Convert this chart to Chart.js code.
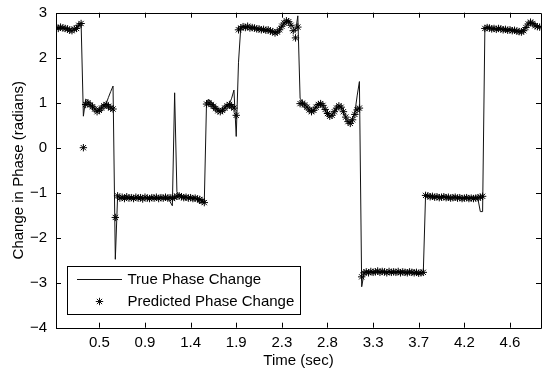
<!DOCTYPE html>
<html><head><meta charset="utf-8">
<script src="https://cdn.jsdelivr.net/npm/chart.js@4/dist/chart.umd.min.js"></script>
<style>html,body{margin:0;padding:0;background:#fff}#wrap{width:546px;height:370px;position:relative}</style>
</head><body><div id="wrap"><canvas id="c" width="546" height="370"></canvas></div>
<script>
// x axis: analysis frames; tick labels are times in seconds
const xTickFrames = [20, 40, 60, 80, 100, 120, 140, 160, 180, 200];
const xTickLabels = ['0.5', '0.9', '1.4', '1.9', '2.3', '2.8', '3.3', '3.7', '4.2', '4.6'];
const yTickValues = [-4, -3, -2, -1, 0, 1, 2, 3];

const trueChange = [
  2.68, 2.66, 2.69, 2.67, 2.64, 2.66, 2.62, 2.60, 2.63, 2.66, 2.71, 2.78,
  0.70,
  1.08, 1.04, 0.97, 0.92, 0.86, 0.82, 0.85, 0.91, 0.96, 0.98, 1.12, 1.25, 1.37,
  -2.48,
  -1.08, -1.10, -1.12, -1.09, -1.11, -1.13, -1.10, -1.12, -1.11, -1.09,
  -1.12, -1.13, -1.10, -1.11, -1.12, -1.10, -1.11, -1.13, -1.12, -1.10,
  -1.11, -1.12, -1.14, -1.20, -1.29, 1.22, -0.98, -1.06, -1.08, -1.10,
  -1.09, -1.11, -1.10, -1.12, -1.11, -1.14, -1.25, -1.19, -1.21,
  1.05, 1.06, 1.02, 0.95, 0.90, 0.84, 0.81, 0.84, 0.90, 0.95, 0.97, 1.10, 1.28, 0.25,
  1.90,
  2.68, 2.70, 2.68, 2.69, 2.67, 2.66, 2.68, 2.65, 2.63, 2.64, 2.62, 2.63, 2.61,
  2.60, 2.58, 2.56, 2.55, 2.60, 2.68, 2.75, 2.80, 2.82, 2.75, 2.68, 2.58, 2.93,
  1.10, 1.02, 0.96, 0.90, 0.85, 0.81, 0.84, 0.91, 0.97, 0.99, 0.93, 0.84, 0.75, 0.70,
  0.73, 0.81, 0.89, 0.94, 0.89, 0.79, 0.67, 0.57, 0.55, 0.64, 0.78, 1.15, 1.47,
  -3.09, -2.80, -2.77, -2.79, -2.76, -2.78, -2.77, -2.75, -2.78, -2.76, -2.77, -2.79, -2.76, -2.78,
  -2.77, -2.78, -2.76, -2.79, -2.77, -2.78, -2.79, -2.77, -2.78, -2.79, -2.78, -2.80, -2.79, -2.78,
  -1.05, -1.06, -1.08, -1.07, -1.09, -1.08, -1.10, -1.09, -1.08, -1.10, -1.09, -1.11, -1.10,
  -1.09, -1.11, -1.10, -1.12, -1.11, -1.10, -1.12, -1.11, -1.12, -1.13, -1.15, -1.42, -1.42,
  2.66, 2.68, 2.67, 2.65, 2.66, 2.64, 2.66, 2.65, 2.63, 2.64, 2.62, 2.63, 2.61,
  2.62, 2.60, 2.59, 2.58, 2.61, 2.68, 2.76, 2.80, 2.77, 2.72, 2.70, 2.69
];

const predictedChange = [
  2.67, 2.65, 2.68, 2.66, 2.65, 2.64, 2.61, 2.60, 2.64, 2.65, 2.72, 2.76,
  0.00,
  0.96, 1.00, 0.95, 0.91, 0.86, 0.80, 0.83, 0.88, 0.93, 0.96, 0.92, 0.88, 0.86,
  -1.55,
  -1.07, -1.12, -1.10, -1.13, -1.09, -1.12, -1.11, -1.13, -1.10, -1.12,
  -1.11, -1.14, -1.10, -1.12, -1.13, -1.11, -1.12, -1.10, -1.13, -1.11,
  -1.12, -1.10, -1.12, -1.11, -1.13, -1.10, -1.08, -1.07, -1.09, -1.11,
  -1.10, -1.12, -1.11, -1.13, -1.12, -1.14, -1.15, -1.18, -1.22,
  0.97, 1.00, 0.96, 0.92, 0.87, 0.82, 0.80, 0.83, 0.88, 0.93, 0.96, 0.92, 0.88, 0.72,
  2.62,
  2.66, 2.69, 2.67, 2.70, 2.66, 2.67, 2.66, 2.64, 2.64, 2.62, 2.63, 2.61, 2.62,
  2.59, 2.58, 2.55, 2.57, 2.62, 2.70, 2.77, 2.82, 2.80, 2.72, 2.60, 2.44, 2.68,
  0.98, 0.99, 0.95, 0.90, 0.84, 0.80, 0.83, 0.90, 0.96, 0.98, 0.94, 0.85, 0.76, 0.70,
  0.72, 0.80, 0.88, 0.93, 0.90, 0.80, 0.68, 0.58, 0.54, 0.62, 0.74, 0.84, 0.88,
  -2.87, -2.78, -2.76, -2.78, -2.75, -2.77, -2.76, -2.74, -2.77, -2.75, -2.76, -2.78, -2.75, -2.77,
  -2.76, -2.77, -2.75, -2.78, -2.76, -2.77, -2.78, -2.76, -2.77, -2.78, -2.77, -2.79, -2.78, -2.77,
  -1.06, -1.07, -1.09, -1.08, -1.10, -1.09, -1.11, -1.10, -1.09, -1.11, -1.10, -1.12, -1.11,
  -1.10, -1.12, -1.11, -1.13, -1.12, -1.11, -1.13, -1.12, -1.13, -1.12, -1.11, -1.10, -1.08,
  2.65, 2.67, 2.66, 2.64, 2.65, 2.63, 2.65, 2.64, 2.62, 2.63, 2.61, 2.62, 2.60,
  2.61, 2.59, 2.58, 2.57, 2.60, 2.67, 2.75, 2.79, 2.76, 2.71, 2.69, 2.68
];

const seriesNames = ['True Phase Change', 'Predicted Phase Change'];
const FONT = "'Liberation Sans', Arial, Helvetica, sans-serif";

const framePlugin = {
  id: 'framePlugin',
  afterDraw(chart) {
    const ctx = chart.ctx;
    const a = chart.chartArea;
    const xs = chart.scales.x, ys = chart.scales.y;
    const tl = 5;
    ctx.save();
    ctx.strokeStyle = '#000';
    ctx.lineWidth = 1;
    ctx.beginPath();
    ctx.rect(Math.round(a.left) + 0.5, Math.round(a.top) + 0.5,
             Math.round(a.right) - Math.round(a.left), Math.round(a.bottom) - Math.round(a.top));
    ctx.stroke();
    ctx.beginPath();
    xs.ticks.forEach(t => {
      const px = Math.round(xs.getPixelForValue(t.value)) + 0.5;
      ctx.moveTo(px, a.bottom); ctx.lineTo(px, a.bottom - tl);
      ctx.moveTo(px, a.top); ctx.lineTo(px, a.top + tl);
    });
    ys.ticks.forEach(t => {
      const py = Math.round(ys.getPixelForValue(t.value)) + 0.5;
      ctx.moveTo(a.left, py); ctx.lineTo(a.left + tl, py);
      ctx.moveTo(a.right, py); ctx.lineTo(a.right - tl, py);
    });
    ctx.stroke();

    // legend box
    const lx = 67.5, ly = 266.5, lw = 233, lh = 48;
    ctx.fillStyle = '#fff';
    ctx.fillRect(lx, ly, lw, lh);
    ctx.strokeRect(lx, ly, lw, lh);
    ctx.strokeStyle = '#111';
    ctx.beginPath();
    ctx.moveTo(77, 279.5); ctx.lineTo(122, 279.5);
    ctx.stroke();
    Chart.helpers.drawPoint(ctx, {pointStyle: 'star', radius: 3.7, borderWidth: 1}, 99.5, 301.5);
    ctx.fillStyle = '#000';
    ctx.font = '15px ' + FONT;
    ctx.textBaseline = 'middle';
    ctx.textAlign = 'left';
    ctx.fillText(seriesNames[0], 127.5, 279.5);
    ctx.fillText(seriesNames[1], 127.5, 302);
    ctx.restore();
  }
};

new Chart(document.getElementById('c'), {
  type: 'scatter',
  data: {
    datasets: [
      {
        label: seriesNames[1],
        data: predictedChange.map((y, i) => ({x: i + 1, y})),
        showLine: false,
        pointStyle: 'star',
        pointRadius: 3.7,
        pointBorderWidth: 1,
        borderColor: '#000',
        backgroundColor: 'rgba(0,0,0,0)',
        order: 0
      },
      {
        label: seriesNames[0],
        data: trueChange.map((y, i) => ({x: i + 1, y})),
        showLine: true,
        pointRadius: 0,
        borderColor: '#111',
        borderWidth: 1,
        tension: 0,
        order: 1
      }
    ]
  },
  options: {
    responsive: false,
    animation: false,
    devicePixelRatio: 1,
    layout: {padding: {top: 12.7, right: 1, left: 0, bottom: 0}},
    plugins: {legend: {display: false}, tooltip: {enabled: false}},
    scales: {
      x: {
        type: 'linear', min: 1, max: 213.6,
        afterBuildTicks: s => { s.ticks = xTickFrames.map(v => ({value: v})); },
        afterFit: s => { s.height = 42.3; s.paddingLeft = 0; s.paddingRight = 0; },
        grid: {display: false, drawTicks: false, tickLength: 0}, border: {display: false},
        ticks: {
          callback: (v, i) => xTickLabels[i],
          autoSkip: false, maxRotation: 0, padding: 6,
          color: '#000', font: {family: FONT, size: 15}
        },
        title: {display: true, text: 'Time (sec)', color: '#000',
                font: {family: FONT, size: 15}, padding: {top: 1.5, bottom: 0}}
      },
      y: {
        type: 'linear', min: -4, max: 3,
        afterBuildTicks: s => { s.ticks = yTickValues.map(v => ({value: v})); },
        afterFit: s => { s.width = 56; s.paddingTop = 0; s.paddingBottom = 0; },
        grid: {display: false, drawTicks: false, tickLength: 0}, border: {display: false},
        ticks: {
          callback: v => String(v).replace('-', '\u2212'),
          padding: 9, color: '#000', font: {family: FONT, size: 15}
        },
        title: {display: true, text: 'Change in Phase (radians)', color: '#000',
                font: {family: FONT, size: 15}, padding: {top: 9.5, bottom: 0}}
      }
    }
  },
  plugins: [framePlugin]
});
</script>
</body></html>
